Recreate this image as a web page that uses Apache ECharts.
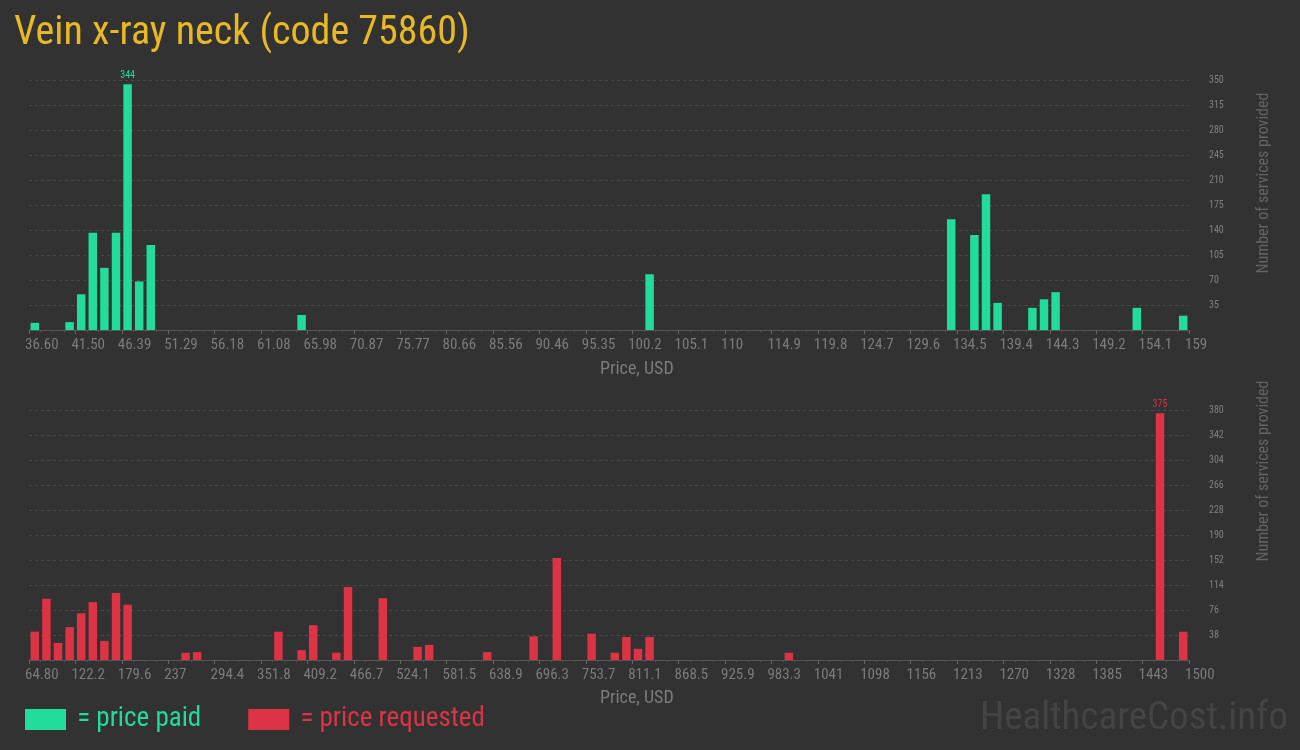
<!DOCTYPE html>
<html><head><meta charset="utf-8">
<script src="https://cdn.jsdelivr.net/npm/echarts@6/dist/echarts.min.js"></script>
<style>html,body{margin:0;padding:0;background:#323232}#c{width:1300px;height:750px}</style>
</head><body><div id="c"></div>
<script>
// ---- data ----
const titleText = 'Vein x-ray neck (code 75860)';
const paidTickLabels = ['36.60','41.50','46.39','51.29','56.18','61.08','65.98','70.87','75.77','80.66','85.56','90.46','95.35','100.2','105.1','110','114.9','119.8','124.7','129.6','134.5','139.4','144.3','149.2','154.1','159'];
const requestedTickLabels = ['64.80','122.2','179.6','237','294.4','351.8','409.2','466.7','524.1','581.5','638.9','696.3','753.7','811.1','868.5','925.9','983.3','1041','1098','1156','1213','1270','1328','1385','1443','1500'];
// bin index (0..99, 100 equal price bins) and number of services in that bin
const paidBins   = [0, 3, 4, 5, 6, 7, 8, 9, 10, 23, 53, 79, 81, 82, 83, 86, 87, 88, 95, 99];
const paidCounts = [10, 11, 50, 136, 87, 136, 344, 68, 119, 21, 78, 155, 133, 190, 38, 31, 43, 53, 31, 20];
const requestedBins   = [0, 1, 2, 3, 4, 5, 6, 7, 8, 13, 14, 21, 23, 24, 26, 27, 30, 33, 34, 39, 43, 45, 48, 50, 51, 52, 53, 65, 97, 99];
const requestedCounts = [43, 93, 26, 50, 71, 88, 29, 102, 84, 11, 12, 43, 15, 53, 11, 111, 94, 20, 23, 12, 36, 155, 40, 11, 35, 17, 35, 11, 375, 43];
const paidYTicks = [0, 350, 35];       // min, max, interval
const requestedYTicks = [0, 380, 38];
const binCount = 100, labelEvery = 4;

// ---- styling ----
const BG = '#323232', GREEN = '#21dc9b', RED = '#dc3444', GOLD = '#e8b923';
const NARROW = "'Roboto Condensed',sans-serif";
const TICKFONT = "'Roboto Condensed',sans-serif";

function seriesData(bins, counts, color) {
  const mx = Math.max(...counts);
  return bins.map((b, k) => {
    const item = { value: [b + 0.5, counts[k]] };
    if (counts[k] === mx) item.label = { show: true, position: 'top', distance: 4, color: color, fontSize: 10, fontFamily: TICKFONT, formatter: String(mx) };
    return item;
  });
}
function xAxis(gridIndex, labels) {
  return {
    type: 'value', gridIndex, min: 0, max: binCount, interval: labelEvery,
    axisLine: { show: true, lineStyle: { color: '#555', width: 1 } },
    axisTick: { show: true, length: 4, lineStyle: { color: '#666' } },
    minorTick: { show: true, splitNumber: labelEvery, length: 2, lineStyle: { color: '#555' } },
    splitLine: { show: false },
    axisLabel: { color: '#7b7b7b', fontSize: 15, fontFamily: TICKFONT, margin: 8, align: 'left', padding: [0, 0, 0, -4],
      formatter: v => labels[Math.round(v / labelEvery)] }
  };
}
function yAxis(gridIndex, t) {
  return {
    type: 'value', gridIndex, position: 'right', min: t[0], max: t[1], interval: t[2],
    axisLine: { show: false }, axisTick: { show: false },
    splitLine: { show: true, lineStyle: { color: '#4a4a4a', type: [3, 3] } },
    axisLabel: { color: '#808080', fontSize: 10, fontFamily: TICKFONT, margin: 20, showMinLabel: false }
  };
}
const chart = echarts.init(document.getElementById('c'));
chart.setOption({
  backgroundColor: BG,
  animation: false,
  title: { text: titleText, left: 9, top: 9, textStyle: { color: GOLD, fontSize: 40, fontWeight: 'normal', fontFamily: NARROW } },
  grid: [
    { left: 29, width: 1160, top: 80, height: 250 },
    { left: 29, width: 1160, top: 410, height: 250 }
  ],
  xAxis: [xAxis(0, paidTickLabels), xAxis(1, requestedTickLabels)],
  yAxis: [yAxis(0, paidYTicks), yAxis(1, requestedYTicks)],
  legend: {
    left: 20, top: 701, itemWidth: 41, itemHeight: 21, itemGap: 47, icon: 'rect', selectedMode: false,
    formatter: ' = {name}',
    data: [
      { name: 'price paid', textStyle: { color: GREEN } },
      { name: 'price requested', textStyle: { color: RED } }
    ],
    textStyle: { fontSize: 27, fontFamily: NARROW }
  },
  graphic: [
    { type: 'text', left: 600, top: 360, style: { text: 'Price, USD', fill: '#7b7b7b', font: "18px " + NARROW } },
    { type: 'text', left: 600, top: 689, style: { text: 'Price, USD', fill: '#7b7b7b', font: "18px " + NARROW } },
    { type: 'text', x: 1264, y: 183, rotation: Math.PI / 2, style: { text: 'Number of services provided', fill: '#636363', font: "16px " + NARROW, align: 'center', verticalAlign: 'middle' } },
    { type: 'text', x: 1264, y: 471, rotation: Math.PI / 2, style: { text: 'Number of services provided', fill: '#636363', font: "16px " + NARROW, align: 'center', verticalAlign: 'middle' } },
    { type: 'text', right: 12, top: 700, style: { text: 'HealthcareCost.info', fill: '#444', font: "39px " + NARROW } }
  ],
  series: [
    { name: 'price paid', type: 'bar', xAxisIndex: 0, yAxisIndex: 0, barWidth: 8.5, itemStyle: { color: GREEN }, data: seriesData(paidBins, paidCounts, GREEN) },
    { name: 'price requested', type: 'bar', xAxisIndex: 1, yAxisIndex: 1, barWidth: 8.5, itemStyle: { color: RED }, data: seriesData(requestedBins, requestedCounts, RED) }
  ]
});
</script></body></html>
